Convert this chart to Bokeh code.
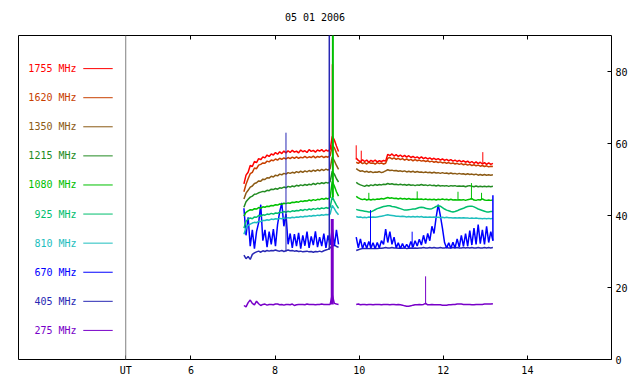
from bokeh.plotting import figure
from bokeh.models import Range1d, LinearAxis, FixedTicker, Span
from bokeh.embed import file_html
from bokeh.resources import INLINE
from bokeh.core.properties import value

TITLE = "05 01 2006"
FONT = "DejaVu Sans Mono"
X_TICKS = [6, 8, 10, 12, 14]
Y_TICKS = [0, 20, 40, 60, 80]
UT_X = 4.45

FREQS = ["1755", "1620", "1350", "1215", "1080", "925", "810", "670", "405", "275"]
COLORS = ["#ff0000", "#c84000", "#8b5a14", "#228b22", "#00c000",
          "#00be6e", "#1ebebe", "#0000ff", "#2828b4", "#7800c8"]

# segment time grids (UT hours)
T1 = [round(7.26 + 0.05 * i, 2) for i in range(46)]
T2 = [round(9.93 + 0.05 * i, 2) for i in range(66)]

S1 = {
    "1755": [48.8, 51.2, 52.0, 53.9, 53.6, 55.0, 54.7, 55.8, 55.5, 56.3,
             56.0, 56.8, 56.4, 57.1, 56.8, 57.5, 57.0, 57.7, 57.2, 57.9,
             57.4, 58.0, 57.5, 58.1, 57.6, 57.9, 57.4, 58.2, 57.7, 58.0,
             57.5, 58.3, 57.8, 58.1, 57.6, 58.2, 57.9, 58.3, 57.7, 58.2,
             57.9, 58.4, 62.0, 61.0, 59.3, 57.8],
    "1620": [46.6, 48.7, 50.2, 51.6, 52.0, 53.2, 53.0, 54.0, 54.2, 54.6,
             54.5, 55.1, 54.9, 55.4, 55.2, 55.7, 55.4, 55.9, 55.6, 56.0,
             55.7, 56.1, 55.8, 56.2, 55.9, 56.3, 55.9, 56.2, 56.0, 56.4,
             56.0, 56.3, 56.1, 56.5, 56.0, 56.4, 56.2, 56.5, 56.1, 56.4,
             56.2, 56.6, 59.5, 58.8, 57.4, 56.2],
    "1350": [44.6, 46.2, 47.0, 47.9, 48.2, 48.9, 49.1, 49.6, 49.5, 50.1,
             50.0, 50.5, 50.4, 50.9, 50.7, 51.2, 51.0, 51.5, 51.3, 51.7,
             51.5, 51.9, 51.7, 52.0, 51.8, 52.2, 51.9, 52.3, 52.0, 52.4,
             52.1, 52.5, 52.2, 52.6, 52.3, 52.7, 52.4, 52.8, 52.5, 52.9,
             52.6, 53.0, 56.3, 55.2, 53.9, 52.8],
    "1215": [42.3, 43.8, 44.5, 45.1, 45.4, 45.9, 46.0, 46.3, 46.5, 46.7,
             46.6, 47.0, 46.9, 47.3, 47.2, 47.5, 47.3, 47.7, 47.6, 47.9,
             47.7, 48.1, 47.9, 48.2, 48.0, 48.4, 48.2, 48.5, 48.3, 48.6,
             48.4, 48.7, 48.5, 48.9, 48.6, 49.0, 48.8, 49.1, 48.9, 49.2,
             49.0, 49.4, 52.3, 51.5, 50.2, 49.3],
    "1080": [39.8, 40.9, 41.3, 41.6, 41.5, 41.9, 41.8, 42.2, 42.0, 42.4,
             42.3, 42.6, 42.5, 42.8, 42.7, 43.0, 42.9, 43.2, 43.1, 43.4,
             43.3, 43.5, 43.4, 43.7, 43.6, 43.8, 43.7, 44.0, 43.9, 44.1,
             44.0, 44.3, 44.1, 44.4, 44.2, 44.5, 44.4, 44.7, 44.5, 44.8,
             44.6, 45.0, 49.5, 48.2, 46.6, 45.4],
    "925": [36.5, 38.4, 39.0, 39.3, 39.1, 39.6, 39.5, 40.0, 39.8, 40.2,
            40.1, 40.4, 40.3, 40.6, 40.4, 40.7, 40.6, 40.9, 40.8, 41.1,
            40.9, 41.2, 41.0, 41.3, 41.2, 41.4, 41.3, 41.6, 41.4, 41.7,
            41.5, 41.8, 41.6, 41.9, 41.7, 42.0, 41.8, 42.1, 41.9, 42.2,
            42.0, 42.3, 45.2, 44.0, 42.9, 42.0],
    "810": [34.8, 36.5, 37.3, 37.6, 37.9, 38.1, 38.0, 38.4, 38.3, 38.6,
            38.6, 38.8, 38.7, 39.0, 38.9, 39.1, 39.0, 39.2, 39.1, 39.3,
            39.2, 39.4, 39.3, 39.5, 39.4, 39.6, 39.5, 39.7, 39.6, 39.8,
            39.7, 39.9, 39.8, 40.0, 39.9, 40.1, 40.0, 40.2, 40.1, 40.3,
            40.2, 40.4, 42.8, 41.9, 40.9, 40.2],
    "670": [42.0, 34.5, 39.5, 31.5, 36.0, 30.8, 35.5, 38.0, 43.0, 33.0,
            36.0, 31.2, 35.5, 32.0, 36.2, 31.5, 37.5, 41.0, 43.5, 37.0,
            40.5, 32.0, 35.0, 31.0, 34.8, 31.5, 35.2, 30.8, 34.5, 31.6,
            35.5, 31.0, 34.2, 31.8, 35.6, 31.2, 34.0, 31.5, 35.0, 31.0,
            34.5, 31.8, 36.5, 31.5, 36.0, 32.0],
    "405": [29.0, 28.0, 28.6, 27.8, 29.2, 29.6, 29.9, 30.1, 29.8, 30.2,
            30.0, 30.3, 30.1, 30.3, 30.2, 30.4, 30.2, 30.1, 30.3, 30.0,
            30.2, 30.4, 30.2, 30.3, 30.1, 30.2, 30.0, 30.1, 29.9, 30.0,
            30.1, 29.9, 30.0, 29.8, 30.0, 29.9, 30.1, 29.9, 30.2, 30.4,
            30.6, 31.0, 31.5, 31.8, 31.4, 31.2],
    "275": [15.0, 14.6, 15.8, 16.5, 15.6, 15.2, 16.2, 15.5, 15.0, 15.3,
            15.4, 15.1, 15.3, 15.3, 15.2, 15.4, 15.4, 15.2, 15.3, 15.1,
            15.3, 15.3, 15.2, 15.4, 15.0, 15.2, 15.3, 15.3, 15.3, 15.2,
            15.4, 15.3, 15.3, 15.3, 15.2, 15.3, 15.3, 15.4, 15.3, 15.3,
            15.3, 15.3, 18.0, 15.6, 15.4, 15.3],
}

S2 = {
    "1755": [56.0, 55.3, 54.9, 55.5, 55.0, 55.4, 54.8, 55.3, 55.0, 55.4, 54.9, 55.2, 55.0, 55.3, 55.1,
             57.0, 56.6, 57.1, 56.5, 56.9, 56.4, 56.8, 56.3, 56.7, 56.2, 56.6, 56.1, 56.4, 56.0, 56.3,
             55.9, 56.3, 55.8, 56.1, 55.7, 56.0, 55.6, 55.9, 55.5, 55.8, 55.4, 55.7, 55.3, 55.6, 55.2,
             55.5, 55.1, 55.4, 55.0, 55.3, 54.9, 55.2, 54.8, 55.1, 54.6, 55.0, 54.5, 54.9, 54.4, 54.8,
             54.3, 54.7, 54.2, 54.6, 54.2, 54.5],
    "1620": [54.8, 54.5, 54.9, 54.4, 54.7, 54.3, 54.8, 54.5, 54.6, 54.3, 54.7, 54.4, 54.6, 54.3, 54.5,
             55.9, 56.1, 55.7, 56.0, 55.6, 55.9, 55.5, 55.8, 55.4, 55.7, 55.3, 55.6, 55.2, 55.5, 55.2,
             55.4, 55.1, 55.3, 55.0, 55.2, 54.9, 55.1, 54.8, 55.0, 54.7, 54.9, 54.6, 54.8, 54.5, 54.7,
             54.4, 54.6, 54.3, 54.5, 54.2, 54.4, 54.1, 54.3, 54.0, 54.2, 53.9, 54.1, 53.8, 54.0, 53.7,
             53.9, 53.6, 53.8, 53.5, 53.7, 53.6],
    "1350": [53.0, 52.6, 52.3, 52.4, 52.1, 52.3, 52.0, 52.2, 51.9, 52.1, 52.0, 52.2, 51.9, 52.1, 52.4,
             52.7, 52.5, 52.6, 52.4, 52.5, 52.3, 52.4, 52.2, 52.4, 52.1, 52.3, 52.1, 52.3, 52.0, 52.2,
             52.0, 52.1, 51.9, 52.1, 51.9, 52.0, 51.8, 52.0, 51.8, 51.9, 51.7, 51.9, 51.7, 51.8, 51.6,
             51.8, 51.6, 51.7, 51.5, 51.7, 51.5, 51.6, 51.4, 51.6, 51.4, 51.5, 51.3, 51.5, 51.2, 51.4,
             51.2, 51.4, 51.2, 51.3, 51.2, 51.3],
    "1215": [49.2, 48.8, 48.5, 48.3, 48.1, 48.4, 48.2, 48.5, 48.3, 48.6, 48.4, 48.6, 48.5, 48.7, 48.6,
             48.9, 48.7, 48.8, 48.6, 48.7, 48.5, 48.7, 48.5, 48.6, 48.4, 48.6, 48.4, 48.5, 48.3, 48.5,
             48.4, 48.6, 48.4, 48.5, 48.3, 48.5, 48.3, 48.4, 48.2, 48.4, 48.2, 48.3, 48.2, 48.3, 48.1,
             48.3, 48.2, 48.3, 48.1, 48.2, 48.1, 48.2, 48.0, 48.2, 48.3, 48.1, 48.0, 48.2, 48.0, 48.1,
             48.0, 48.1, 48.0, 48.1, 48.0, 48.1],
    "1080": [45.3, 44.9, 44.6, 44.4, 44.6, 44.3, 44.5, 44.3, 44.5, 44.4, 44.6, 44.5, 44.7, 44.6, 44.8,
             45.0, 44.8, 44.9, 44.7, 44.8, 44.6, 44.8, 44.6, 44.7, 44.5, 44.7, 44.5, 44.6, 44.5, 44.6,
             44.5, 44.6, 44.4, 44.6, 44.4, 44.5, 44.4, 44.5, 44.3, 44.5, 44.4, 44.6, 44.4, 44.5, 44.3,
             44.5, 44.3, 44.4, 44.3, 44.4, 44.3, 44.4, 44.2, 44.4, 44.5, 44.7, 44.3, 44.2, 44.4, 44.3,
             44.6, 44.3, 44.2, 44.3, 44.2, 44.3],
    "925": [41.7, 41.5, 41.4, 41.3, 41.2, 41.1, 41.0, 41.0, 41.3, 41.6,
            41.9, 42.1, 42.3, 42.5, 42.6, 42.7, 42.7, 42.5, 42.4, 42.3,
            42.1, 41.9, 41.7, 41.5, 41.5, 41.6, 41.7, 41.8, 41.8, 42.0,
            42.2, 42.3, 42.2, 42.0, 41.9, 41.8, 41.9, 42.2, 42.5, 42.7,
            42.6, 42.2, 41.8, 41.5, 41.3, 41.1, 41.0, 41.1, 41.3, 41.6,
            41.8, 42.0, 42.3, 42.5, 42.6, 42.6, 42.4, 42.1, 41.8, 41.6,
            41.4, 41.2, 41.0, 41.0, 41.1, 41.1],
    "810": [39.7, 39.5, 39.6, 39.4, 39.5, 39.4, 39.6, 39.5, 39.6, 39.5, 39.6, 39.7, 39.8, 39.9, 40.1,
            40.2, 40.1, 40.0, 39.9, 39.8, 39.8, 39.7, 39.8, 39.7, 39.6, 39.7, 39.6, 39.7, 39.6, 39.7,
            39.6, 39.7, 39.5, 39.6, 39.5, 39.6, 39.5, 39.6, 39.5, 39.5, 39.4, 39.5, 39.4, 39.5, 39.4,
            39.4, 39.3, 39.4, 39.3, 39.4, 39.3, 39.4, 39.3, 39.3, 39.2, 39.3, 39.2, 39.3, 39.2, 39.2,
            39.1, 39.2, 39.1, 39.2, 39.1, 39.2],
    "670": [34.0, 31.0, 33.5, 30.8, 32.6, 30.9, 32.8, 31.0, 32.4, 30.8,
            32.5, 31.0, 33.0, 32.0, 36.2, 32.5, 35.5, 32.0, 34.0, 31.0,
            32.4, 30.8, 32.2, 30.9, 32.0, 31.0, 32.8, 31.2, 33.0, 31.5,
            33.4, 31.8, 34.5, 32.2, 35.0, 33.0, 37.0, 35.0, 39.5, 43.0,
            40.0, 36.5, 32.5, 31.0, 32.4, 30.9, 32.6, 31.0, 33.5, 31.2,
            34.5, 31.4, 35.0, 31.5, 35.8, 31.8, 36.5, 32.0, 37.5, 32.2,
            36.0, 32.0, 37.0, 32.5, 35.5, 33.0],
    "405": [30.3, 30.5, 30.7, 30.8, 30.8, 30.9, 30.8, 30.9, 30.8, 30.9, 30.8, 30.9, 30.9, 31.0, 31.1,
            31.0, 31.0, 31.1, 31.0, 31.0, 30.9, 31.0, 30.9, 31.0, 30.8, 30.9, 31.0, 30.9, 31.0, 30.9,
            31.0, 31.0, 31.1, 31.0, 31.0, 31.1, 31.0, 31.1, 31.0, 31.0, 31.1, 31.0, 31.0, 31.1, 31.0,
            31.0, 31.1, 31.0, 31.1, 31.0, 31.0, 31.1, 31.0, 31.1, 31.0, 31.1, 31.0, 31.0, 31.1, 31.0,
            31.0, 31.1, 31.0, 31.1, 31.0, 31.1],
    "275": [15.3, 15.4, 15.2, 15.3, 15.3, 15.2, 15.3, 15.3, 15.2, 15.3, 15.3, 15.3, 15.2, 15.3, 15.3,
            15.3, 15.2, 15.3, 15.3, 15.2, 15.3, 15.2, 15.1, 14.9, 14.8, 14.8, 14.9, 15.1, 15.2, 15.2,
            15.3, 15.2, 15.3, 15.6, 15.2, 15.2, 15.3, 15.2, 15.2, 15.2, 15.2, 15.1, 15.1, 15.1, 15.2,
            15.2, 15.3, 15.3, 15.4, 15.4, 15.4, 15.3, 15.3, 15.3, 15.3, 15.2, 15.2, 15.3, 15.3, 15.3,
            15.3, 15.4, 15.4, 15.4, 15.4, 15.5],
}

# short bursts (time, series, from value, to value)
SPIKE_T = [8.26, 9.29, 9.365, 9.375, 9.36, 9.93, 10.05, 10.27, 11.26, 13.18, 11.58, 12.94,
           10.23, 11.38, 12.35, 12.67, 12.91]
SPIKE_SERIES = ["405", "405", "1755", "1080", "275", "1755", "1755", "670", "670", "670", "275", "1755",
                "1080", "1080", "1080", "1080", "1080"]
SPIKE_FROM = [30.0, 30.5, 58.0, 45.0, 15.3, 55.5, 55.0, 31.0, 31.0, 33.0, 15.3, 54.6,
              44.5, 44.5, 44.4, 44.4, 44.3]
SPIKE_TO = [63.0, 95.0, 82.0, 95.0, 39.0, 59.5, 58.0, 41.5, 35.5, 45.6, 23.1, 57.6,
            46.3, 46.7, 46.6, 49.0, 46.3]
SPIKE_W = [1, 1.5, 1.5, 2, 3, 1, 1, 1, 1, 1.5, 1, 1, 1, 1, 1, 1, 1]

# legend placement (data units)
LEG_TEXT_X = 3.28
LEG_LINE_X0 = 3.44
LEG_LINE_X1 = 4.14
LEG_TOP = 80.8
LEG_STEP = 8.08

p = figure(width=640, height=384, x_range=Range1d(1.9, 16.0), y_range=Range1d(0, 90),
           output_backend="svg", toolbar_location=None, y_axis_location="right",
           x_axis_location="below", title=None,
           min_border_left=18, min_border_right=29, min_border_top=35, min_border_bottom=25)
p.xgrid.visible = False
p.ygrid.visible = False
p.outline_line_color = "black"
p.outline_line_width = 1
p.outline_line_alpha = 1.0
p.background_fill_color = "white"
p.border_fill_color = "white"


def style_axis(ax):
    ax.axis_line_color = None
    ax.major_tick_in = 4
    ax.major_tick_out = 0
    ax.minor_tick_line_color = None
    ax.major_tick_line_color = "black"
    ax.major_label_text_font = FONT
    ax.major_label_text_font_size = "10px"
    ax.major_label_text_color = "black"


xa = p.xaxis[0]
style_axis(xa)
xa.ticker = FixedTicker(ticks=[UT_X] + X_TICKS)
xa.major_label_overrides = {UT_X: "UT"}
xa.major_label_standoff = 5

ya = p.yaxis[0]
style_axis(ya)
ya.ticker = FixedTicker(ticks=Y_TICKS)
ya.major_label_standoff = 4

top = LinearAxis(ticker=FixedTicker(ticks=X_TICKS))
style_axis(top)
top.major_label_text_color = None
top.major_label_standoff = 0
top.axis_label = TITLE
top.axis_label_text_font = FONT
top.axis_label_text_font_size = "10px"
top.axis_label_text_font_style = "normal"
top.axis_label_text_color = "black"
top.axis_label_standoff = 13
p.add_layout(top, "above")

p.add_layout(Span(location=UT_X, dimension="height", line_color="#808080", line_width=1))

cmap = dict(zip(FREQS, COLORS))

# series, lowest frequency first so the high ones sit on top
for f in reversed(FREQS):
    p.line(T1, S1[f], line_color=cmap[f], line_width=1.5)
    p.line(T2, S2[f], line_color=cmap[f], line_width=1.5)

for t, s, a, b, w in zip(SPIKE_T, SPIKE_SERIES, SPIKE_FROM, SPIKE_TO, SPIKE_W):
    p.segment(x0=[t], y0=[a], x1=[t], y1=[b], line_color=cmap[s], line_width=w)

# legend
leg_y = [LEG_TOP - LEG_STEP * k for k in range(len(FREQS))]
labels = [f + " MHz" for f in FREQS]
p.text(x=[LEG_TEXT_X] * len(FREQS), y=leg_y, text=labels, text_color=COLORS,
       text_align="right", text_baseline="middle", text_font=value(FONT),
       text_font_size="10px")
p.segment(x0=[LEG_LINE_X0] * len(FREQS), y0=leg_y, x1=[LEG_LINE_X1] * len(FREQS), y1=leg_y,
          line_color=COLORS, line_width=1)

open("out.html", "w").write(file_html(p, INLINE))
